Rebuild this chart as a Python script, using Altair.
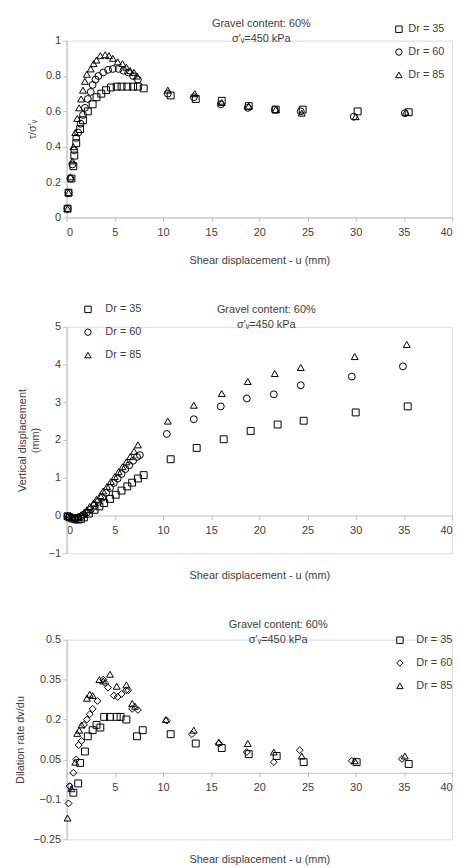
import altair as alt
import pandas as pd

FONT = "Liberation Sans"
TXT = "#404040"
AX = "#bfbfbf"
SERIES = ["Dr = 35", "Dr = 60", "Dr = 85"]
XTICKS = [0, 5, 10, 15, 20, 25, 30, 35, 40]

# ---------- Panel 1: stress ratio ----------
p1_u35 = [0.1, 0.2, 0.5, 0.7, 0.8, 1.0, 1.4, 1.7, 2.2, 2.7, 3.1, 3.6, 4.1, 4.6, 5.2, 5.7, 6.3, 6.9, 7.4, 8.0,
          10.8, 13.4, 16.1, 18.9, 21.7, 24.5, 30.2, 35.5]
p1_v35 = [0.05, 0.14, 0.22, 0.29, 0.35, 0.42, 0.50, 0.55, 0.60, 0.64, 0.68, 0.70, 0.72, 0.735, 0.74, 0.74, 0.74, 0.74, 0.74, 0.73,
          0.69, 0.67, 0.66, 0.63, 0.61, 0.61, 0.60, 0.595]
p1_u60 = [0.1, 0.2, 0.4, 0.6, 0.8, 1.0, 1.2, 1.45, 1.7, 1.9, 2.2, 2.5, 2.7, 3.0, 3.3, 3.8, 4.3, 4.8, 5.4, 5.9, 6.4, 6.9, 7.4,
          10.5, 13.2, 16.0, 18.8, 21.6, 24.3, 29.8, 35.1]
p1_v60 = [0.05, 0.14, 0.22, 0.30, 0.38, 0.45, 0.48, 0.53, 0.58, 0.62, 0.67, 0.71, 0.75, 0.78, 0.80, 0.82, 0.835, 0.84, 0.84, 0.83, 0.82, 0.80, 0.78,
          0.70, 0.68, 0.64, 0.62, 0.61, 0.60, 0.57, 0.59]
p1_u85 = [0.1, 0.2, 0.4, 0.6, 0.7, 0.9, 1.1, 1.3, 1.5, 1.7, 1.9, 2.1, 2.5, 2.8, 3.1, 3.5, 4.0, 4.4, 4.8, 5.3, 5.8, 6.2, 6.6, 7.0, 7.3,
          10.5, 13.3, 16.1, 18.9, 21.7, 24.4, 30.0, 35.2]
p1_v85 = [0.05, 0.14, 0.23, 0.32, 0.40, 0.48, 0.56, 0.62, 0.67, 0.72, 0.77, 0.81, 0.84, 0.87, 0.89, 0.915, 0.92, 0.915, 0.90, 0.88, 0.87, 0.85, 0.83, 0.82, 0.80,
          0.72, 0.70, 0.65, 0.63, 0.61, 0.59, 0.57, 0.595]

# ---------- Panel 2: vertical displacement ----------
p2_u35 = [0.1, 0.3, 0.6, 0.9, 1.2, 1.5, 1.8, 2.3, 2.9, 3.4, 3.9, 4.5, 5.1, 5.7, 6.3, 6.8, 7.4, 8.0,
          10.8, 13.5, 16.3, 19.1, 21.9, 24.6, 30.0, 35.4]
p2_v35 = [-0.02, -0.05, -0.08, -0.10, -0.11, -0.09, -0.05, 0.05, 0.15, 0.24, 0.33, 0.44, 0.55, 0.66, 0.77, 0.87, 0.98, 1.07,
          1.49, 1.79, 2.02, 2.24, 2.41, 2.51, 2.73, 2.89]
p2_u60 = [0.1, 0.3, 0.6, 0.9, 1.2, 1.5, 1.8, 2.1, 2.5, 2.9, 3.3, 3.7, 4.1, 4.5, 4.9, 5.3, 5.7, 6.1, 6.5, 6.9, 7.3, 7.6,
          10.4, 13.2, 16.0, 18.7, 21.5, 24.3, 29.6, 34.9]
p2_v60 = [-0.02, -0.04, -0.06, -0.07, -0.06, -0.03, 0.02, 0.08, 0.16, 0.26, 0.36, 0.47, 0.60, 0.73, 0.86, 0.98, 1.10, 1.23, 1.33, 1.45, 1.55, 1.60,
          2.16, 2.55, 2.89, 3.10, 3.21, 3.45, 3.68, 3.95]
p2_u85 = [0.1, 0.3, 0.6, 0.9, 1.2, 1.5, 1.8, 2.1, 2.4, 2.8, 3.1, 3.5, 3.8, 4.2, 4.6, 5.0, 5.4, 5.8, 6.2, 6.6, 7.0, 7.4,
          10.5, 13.2, 16.1, 18.8, 21.6, 24.3, 29.9, 35.3]
p2_v85 = [-0.02, -0.03, -0.04, -0.04, -0.02, 0.02, 0.08, 0.15, 0.24, 0.33, 0.43, 0.53, 0.65, 0.77, 0.90, 1.03, 1.16, 1.29, 1.42, 1.56, 1.70, 1.87,
          2.50, 2.92, 3.23, 3.55, 3.76, 3.92, 4.21, 4.53]

# ---------- Panel 3: dilation rate ----------
p3_u35 = [0.7, 1.2, 1.4, 1.9, 2.2, 2.7, 3.1, 3.5, 3.9, 4.5, 5.2, 5.6, 6.2, 7.3, 7.9,
          10.8, 13.4, 16.1, 18.9, 21.8, 24.6, 30.1, 35.5]
p3_v35 = [-0.075, -0.04, 0.037, 0.08, 0.137, 0.16, 0.18, 0.17, 0.21, 0.21, 0.21, 0.21, 0.20, 0.137, 0.16,
          0.145, 0.11, 0.093, 0.07, 0.063, 0.04, 0.04, 0.033]
p3_u60 = [0.2, 0.3, 0.7, 1.0, 1.25, 1.55, 1.8, 2.1, 2.4, 2.7, 3.2, 3.8, 4.0, 4.3, 4.9, 5.3, 5.7, 6.2, 6.4, 6.8, 7.4,
          10.4, 13.0, 15.8, 18.7, 21.5, 24.2, 29.6, 34.8]
p3_v60 = [-0.115, -0.05, 0.0, 0.05, 0.104, 0.12, 0.18, 0.20, 0.22, 0.24, 0.27, 0.35, 0.337, 0.32, 0.29, 0.285, 0.296, 0.31, 0.31, 0.24, 0.236,
          0.196, 0.145, 0.11, 0.078, 0.04, 0.085, 0.045, 0.052]
p3_u85 = [0.1, 0.5, 0.9, 1.1, 1.3, 1.55, 2.1, 2.4, 2.7, 3.4, 3.8, 4.5, 5.2, 6.2, 6.8, 7.1,
          10.3, 13.2, 15.8, 18.8, 21.5, 24.4, 29.9, 35.1]
p3_v85 = [-0.17, -0.06, 0.04, 0.148, 0.16, 0.18, 0.28, 0.295, 0.29, 0.35, 0.345, 0.37, 0.325, 0.33, 0.26, 0.25,
          0.20, 0.16, 0.115, 0.11, 0.078, 0.063, 0.045, 0.063]


def frame(pairs):
    rows = []
    for label, us, vs in pairs:
        for u, v in zip(us, vs):
            rows.append({"u": u, "v": v, "series": label})
    return pd.DataFrame(rows)


def panel(df, ydom, yticks, yfmt, ytitle, shapes, lx, ly, loff, xoffset, xtitlepad, w, h, tdx, toff):
    return alt.Chart(df, title=alt.TitleParams(
        text="Gravel content: 60%", subtitle="σ′ᵥ=450 kPa", anchor="middle",
        font=FONT, subtitleFont=FONT, fontSize=11, subtitleFontSize=11, fontWeight="normal",
        color=TXT, subtitleColor=TXT, subtitlePadding=4, offset=toff, dx=tdx)
    ).mark_point(filled=False, color="black", strokeWidth=1, size=48, opacity=1).encode(
        x=alt.X("u:Q", scale=alt.Scale(domain=[0, 40], nice=False),
                axis=alt.Axis(values=XTICKS, title="Shear displacement - u (mm)", grid=False,
                              domainColor=AX, tickColor=AX, tickSize=4, offset=xoffset,
                              labelFont=FONT, labelFontSize=11, labelColor=TXT, labelPadding=5,
                              titleFont=FONT, titleFontSize=11, titleFontWeight="normal",
                              titleColor=TXT, titlePadding=xtitlepad)),
        y=alt.Y("v:Q", scale=alt.Scale(domain=ydom, nice=False, zero=False),
                axis=alt.Axis(values=yticks, format=yfmt, title=ytitle, grid=False, labelOverlap=False,
                              domainColor=AX, tickColor=AX, tickSize=4,
                              labelFont=FONT, labelFontSize=11, labelColor=TXT,
                              titleFont=FONT, titleFontSize=11, titleFontWeight="normal",
                              titleColor=TXT, titlePadding=8)),
        shape=alt.Shape("series:N", scale=alt.Scale(domain=SERIES, range=shapes),
                        legend=alt.Legend(orient="none", legendX=lx, legendY=ly, title=None,
                                          labelFont=FONT, labelFontSize=11, labelColor=TXT,
                                          symbolSize=42, symbolStrokeColor="black",
                                          symbolStrokeWidth=1, rowPadding=11, labelOffset=loff)),
    ).properties(width=w, height=h)


c1 = panel(frame([(SERIES[0], p1_u35, p1_v35), (SERIES[1], p1_u60, p1_v60), (SERIES[2], p1_u85, p1_v85)]),
           [0, 1], [0, 0.2, 0.4, 0.6, 0.8, 1], ".1~f", "τ/σ′ᵥ", ["square", "circle", "triangle-up"],
           329, -17, 4, 0, 17, 388, 178, 2, -20)
c2 = panel(frame([(SERIES[0], p2_u35, p2_v35), (SERIES[1], p2_u60, p2_v60), (SERIES[2], p2_u85, p2_v85)]),
           [-1, 5], [-1, 0, 1, 2, 3, 4, 5], ".0f", ["Vertical displacement", "(mm)"], ["square", "circle", "triangle-up"],
           16, -23, 12, -38, 34, 388, 228, 7, -26)
c3 = panel(frame([(SERIES[0], p3_u35, p3_v35), (SERIES[1], p3_u60, p3_v60), (SERIES[2], p3_u85, p3_v85)]),
           [-0.25, 0.5], [-0.25, -0.1, 0.05, 0.2, 0.35, 0.5], ".2~f", "Dilation rate dv/du", ["square", "diamond", "triangle-up"],
           330, -5, 11, -67, 61, 388, 201, 19, -11)

chart = (
    alt.vconcat(c1, c2, c3, spacing=37)
    .resolve_scale(shape="independent")
    .resolve_legend(shape="independent")
    .properties(padding={"top": 6, "left": 5, "right": 5, "bottom": 2})
    .configure_view(stroke=None)
    .configure(background="white")
)
chart.save("out.html", embed_options={"renderer": "svg", "actions": False})
